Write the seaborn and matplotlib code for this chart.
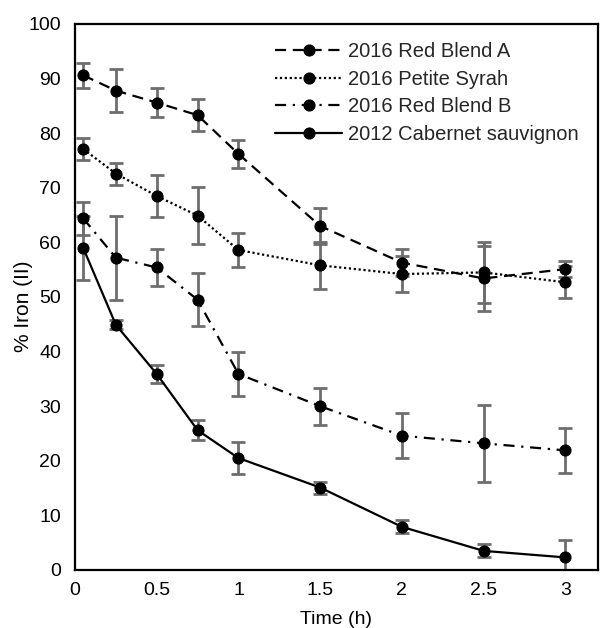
import matplotlib
matplotlib.use("Agg")
import matplotlib.pyplot as plt
import seaborn as sns
import numpy as np

sns.set_theme(style="white")
plt.rcParams['font.family'] = ['Liberation Sans', 'DejaVu Sans']

# ---- data ----
time_h = [0.05, 0.25, 0.5, 0.75, 1.0, 1.5, 2.0, 2.5, 3.0]
series_names = ["2016 Red Blend A", "2016 Petite Syrah", "2016 Red Blend B", "2012 Cabernet sauvignon"]
red_blend_a = [90.6, 87.8, 85.6, 83.3, 76.2, 63.0, 56.3, 53.4, 55.1]
red_blend_a_err = [2.3, 3.9, 2.7, 2.9, 2.5, 3.3, 2.4, 6.0, 1.4]
petite_syrah = [77.1, 72.6, 68.5, 64.9, 58.6, 55.8, 54.2, 54.5, 52.7]
petite_syrah_err = [2.1, 2.0, 3.9, 5.2, 3.1, 4.3, 3.3, 5.6, 2.9]
red_blend_b = [64.4, 57.2, 55.4, 49.5, 35.9, 30.0, 24.6, 23.2, 21.9]
red_blend_b_err = [3.0, 7.7, 3.4, 4.9, 4.0, 3.4, 4.1, 7.0, 4.1]
cabernet = [59.0, 44.9, 35.9, 25.6, 20.5, 15.1, 7.9, 3.5, 2.3]
cabernet_err = [5.9, 0.8, 1.6, 1.8, 2.9, 1.1, 1.2, 1.2, 3.1]

x_ticks = [0, 0.5, 1, 1.5, 2, 2.5, 3]
x_tick_labels = ["0", "0.5", "1", "1.5", "2", "2.5", "3"]
y_ticks = [0, 10, 20, 30, 40, 50, 60, 70, 80, 90, 100]

values = [red_blend_a, petite_syrah, red_blend_b, cabernet]
errors = [red_blend_a_err, petite_syrah_err, red_blend_b_err, cabernet_err]
dash_styles = [(5, 3), (1, 1.2), (5, 3, 1, 3), ()]

fig = plt.figure(figsize=(6.01, 6.28), dpi=100)
ax = fig.add_axes([0.1248, 0.0924, 0.995 - 0.1248, 0.9618 - 0.0924])

for name, vals, errs, dash in zip(series_names, values, errors, dash_styles):
    ax.errorbar(time_h, vals, yerr=errs, fmt='none', ecolor='#6e6e6e',
                elinewidth=2.0, capsize=5, capthick=2.0, zorder=2)
    line_kws = dict(color='black', linewidth=1.6, marker='o', markersize=8,
                    markeredgecolor='black', markerfacecolor='black', zorder=3,
                    label=name, ax=ax)
    sns.lineplot(x=time_h, y=vals, **line_kws)
    ln = ax.get_lines()[-1]
    if dash:
        ln.set_dashes(dash)
    else:
        ln.set_linestyle('-')

ax.set_xlim(0, 3.2)
ax.set_ylim(0, 100)
ax.set_xticks(x_ticks)
ax.set_xticklabels(x_tick_labels)
ax.set_yticks(y_ticks)
ax.tick_params(axis='both', length=0, labelsize=14, colors='black')
ax.tick_params(axis='x', pad=9)
ax.tick_params(axis='y', pad=10)
for s in ax.spines.values():
    s.set_color('black')
    s.set_linewidth(1.6)
    s.set_visible(True)

ax.set_xlabel("Time (h)", fontsize=14, color='black', labelpad=8)
ax.set_ylabel("% Iron (II)", fontsize=15, color='black')
ax.yaxis.set_label_coords(-0.08, 0.4835)

handles, labels = ax.get_legend_handles_labels()
leg = ax.legend(handles, labels, loc='upper left', bbox_to_anchor=(0.356, 0.992),
                frameon=False, fontsize=14.5, handlelength=3.3, handletextpad=0.3,
                labelspacing=0.42, borderpad=0.2)
for h in leg.legend_handles:
    h.set_markersize(8)

fig.savefig("out.png", dpi=100, facecolor='white')
